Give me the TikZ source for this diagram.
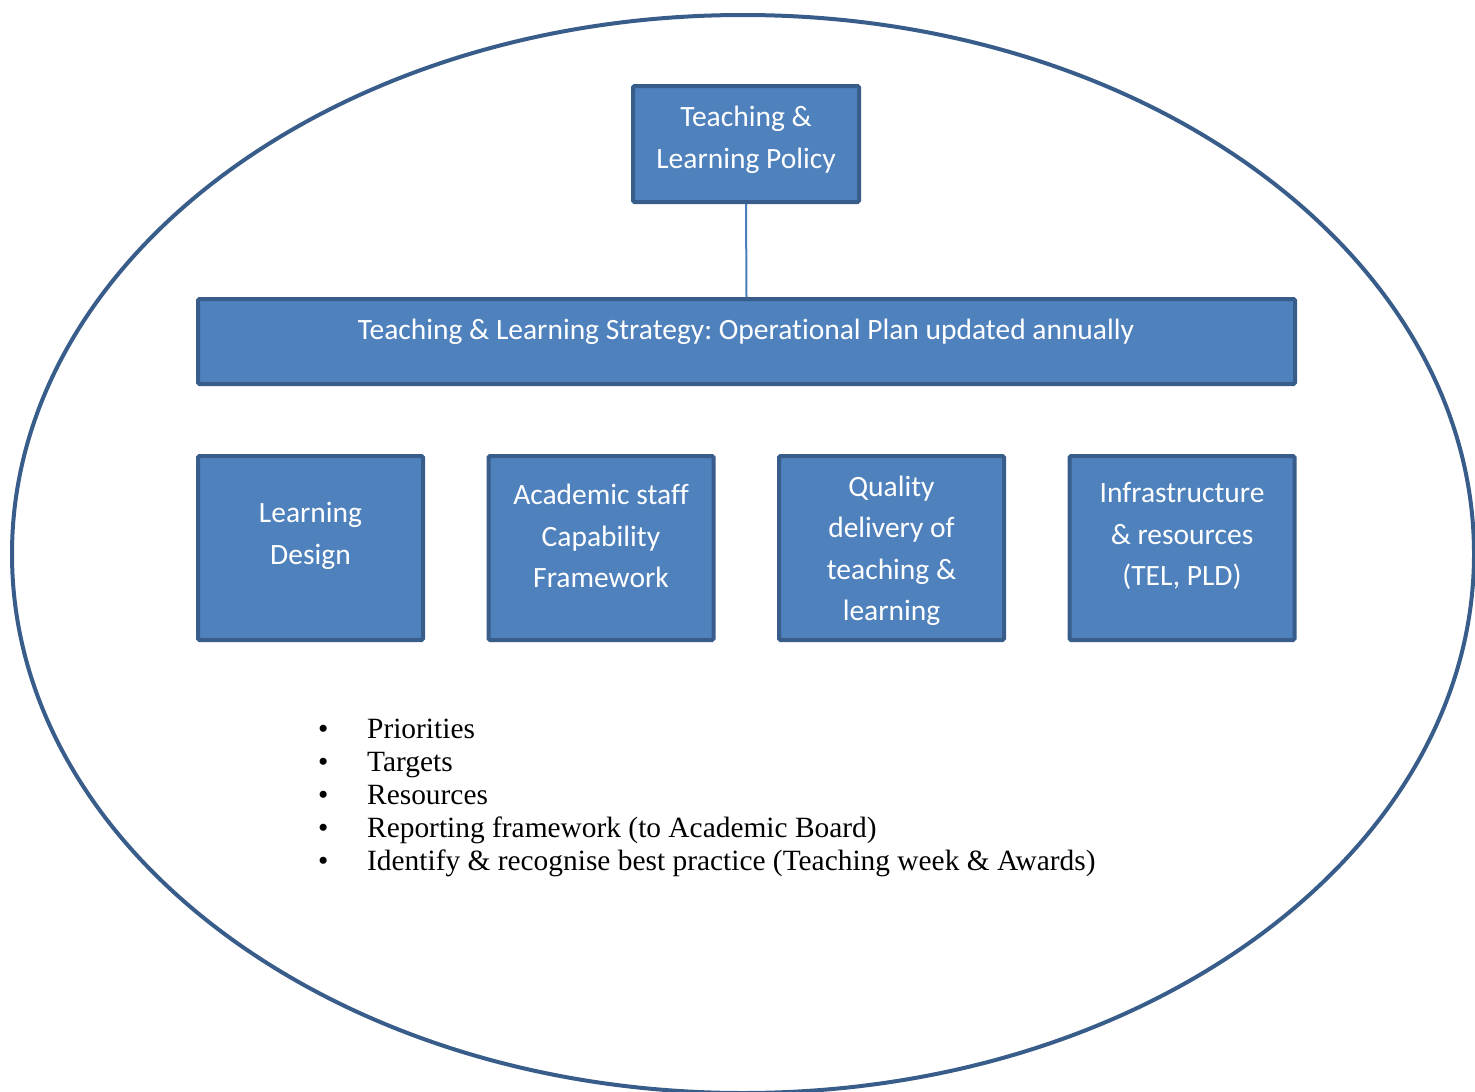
\documentclass[tikz,border=0pt]{standalone}
\usepackage{fontspec}
\newfontfamily\calfont[Ligatures=NoCommon]{Carlito}
\newfontfamily\serfont{Liberation Serif}
\definecolor{boxfill}{HTML}{4F81BD}
\definecolor{boxline}{HTML}{385D8A}
\definecolor{linkcol}{HTML}{4A7EBB}
\frenchspacing
\begin{document}
\begin{tikzpicture}[x=1pt,y=-1pt,
  box/.style={draw=boxline, fill=boxfill, line width=4pt, rounded corners=1.5pt, inner sep=0pt},
  boxtext/.style={text=white, align=center, inner sep=0pt, font=\calfont\fontsize{29.5}{41.5}\selectfont},
  bullettext/.style={anchor=base west, inner sep=0pt, font=\serfont\fontsize{29.4}{33}\selectfont}]
\useasboundingbox (0,0) rectangle (1475,1092);
\draw[boxline, line width=4pt] (743,554) ellipse [x radius=731, y radius=539];
% boxes
\node[box, minimum width=226, minimum height=116] (policy) at (746,144) {};
\node[box, minimum width=1097, minimum height=85] (strategy) at (746.5,341.5) {};
\node[box, minimum width=225, minimum height=184] (design) at (310.5,548) {};
\node[box, minimum width=225, minimum height=184] (staff) at (601,548) {};
\node[box, minimum width=225, minimum height=184] (quality) at (891.5,548) {};
\node[box, minimum width=225, minimum height=184] (infra) at (1182,548) {};
\draw[linkcol, line width=2pt] (policy.south) -- (strategy.north);
% texts
\node[boxtext] (policyt) at (746,140) {Teaching \&\\Learning Policy};
\node[boxtext] (strategyt) at (746,332) {Teaching \& Learning Strategy: Operational Plan updated annually};
\node[boxtext] (designt) at (310.5,536) {Learning\\Design};
\node[boxtext] (stafft) at (601,536) {Academic staff\\Capability\\Framework};
\node[boxtext] (qualityt) at (891.5,551) {Quality\\delivery of\\teaching \&\\learning};
\node[boxtext] (infrat) at (1182,536) {Infrastructure\\\& resources\\(TEL, PLD)};
% bullets
\node[bullettext] (b1) at (318,738) {\makebox[49pt][l]{\textbullet}Priorities};
\node[bullettext] (b2) at (318,771) {\makebox[49pt][l]{\textbullet}Targets};
\node[bullettext] (b3) at (318,804) {\makebox[49pt][l]{\textbullet}Resources};
\node[bullettext] (b4) at (318,837) {\makebox[49pt][l]{\textbullet}Reporting framework (to Academic Board)};
\node[bullettext] (b5) at (318,870) {\makebox[49pt][l]{\textbullet}Identify \& recognise best practice (Teaching week \& Awards)};
\end{tikzpicture}
\end{document}
